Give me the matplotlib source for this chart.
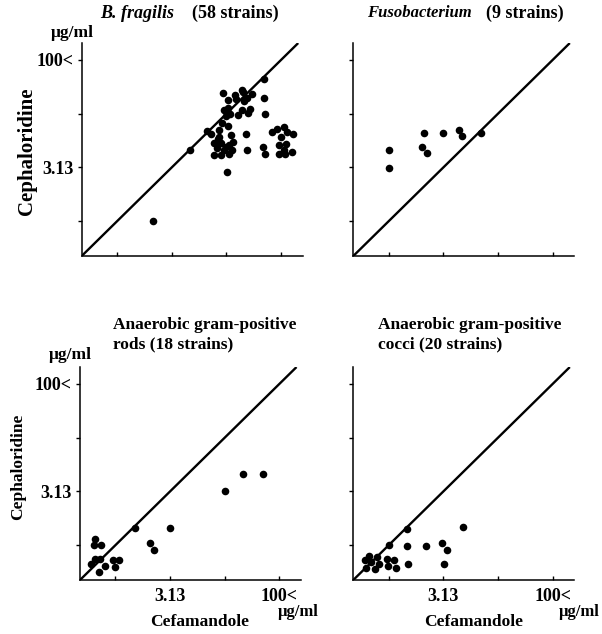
import matplotlib.pyplot as plt

# positions on a dilution-tick scale: tick 2 = 3.13 ug/ml, tick 4 = 100< ug/ml
bf_x = [1.66, 2.34, 3.68, 2.64, 2.71,
        2.94, 3.03, 3.15, 3.18, 3.28, 3.38, 3.47, 3.33, 3.68,
        2.95, 3.03, 3.07, 2.99, 3.28, 3.39, 3.44, 3.70,
        3.03, 2.87, 2.87, 3.09, 3.36, 3.67, 3.70, 3.38,
        2.78, 2.90, 3.05, 2.82, 2.95, 3.10, 2.78, 2.90, 3.05, 3.00,
        3.01,
        3.83, 3.93, 4.06, 4.11, 4.22, 4.00, 3.97, 4.10, 4.20, 3.97, 4.08, 4.06,
        2.85, 3.12, 3.22, 2.92, 3.30]
bf_y = [1.01, 2.32, 3.65, 2.68, 2.63,
        3.38, 3.26, 3.34, 3.28, 3.44, 3.30, 3.36, 3.24, 3.30,
        3.06, 3.11, 3.00, 2.95, 3.06, 3.01, 3.09, 3.00,
        2.78, 2.70, 2.57, 2.60, 2.63, 2.38, 2.25, 2.32,
        2.45, 2.45, 2.41, 2.36, 2.32, 2.32, 2.23, 2.23, 2.25, 2.38,
        1.92,
        2.66, 2.72, 2.75, 2.66, 2.63, 2.57, 2.41, 2.43, 2.29, 2.25, 2.25, 2.33,
        2.52, 2.48, 2.98, 2.82, 3.40]

fuso_x = [1.00, 1.00, 1.65, 1.60, 1.70, 2.00, 2.28, 2.34, 2.69]
fuso_y = [2.32, 1.98, 2.64, 2.38, 2.27, 2.64, 2.70, 2.59, 2.64]

rods_x = [0.63, 0.60, 0.73, 0.55, 0.62, 0.71, 0.80, 0.69, 0.95, 1.06, 1.00,
          1.35, 1.64, 1.70, 2.00, 3.01, 3.33, 3.71]
rods_y = [1.11, 1.00, 1.00, 0.65, 0.75, 0.75, 0.61, 0.50, 0.72, 0.72, 0.59,
          1.32, 1.03, 0.91, 1.31, 2.00, 2.32, 2.32]

cocci_x = [0.57, 0.64, 0.68, 0.78, 0.74, 0.82, 0.58, 0.96, 1.09, 0.98,
           1.14, 1.01, 1.34, 1.34, 1.35, 1.68, 1.98, 2.06, 2.01, 2.35]
cocci_y = [0.72, 0.80, 0.68, 0.77, 0.55, 0.65, 0.58, 0.74, 0.72, 0.61,
           0.58, 1.00, 0.99, 1.30, 0.65, 0.99, 1.03, 0.91, 0.65, 1.33]

tick_pos = [1, 2, 3, 4]
tick_labels = ['', '3.13', '', '100<']

W, H = 602, 634
fig = plt.figure(figsize=(W / 100, H / 100), dpi=100)
plt.rcParams['font.family'] = ['Liberation Serif', 'DejaVu Serif']

lo, xhi, yhi = 0.35, 4.40, 4.32
ux, uy = 54.6, 53.7  # px per tick unit


def make_ax(left_px, bottom_px):
    w = (xhi - lo) * ux
    h = (yhi - lo) * uy
    return fig.add_axes([left_px / W, 1 - bottom_px / H, w / W, h / H])


def panel(ax, xs, ys, left_labels, bottom_labels):
    ax.plot([lo, 4.3], [lo, 4.3], color='black', lw=1.7, zorder=1)
    ax.scatter(xs, ys, s=30, color='black', zorder=2, linewidths=0)
    ax.set_xlim(lo, xhi)
    ax.set_ylim(lo, yhi)
    for s in ['top', 'right']:
        ax.spines[s].set_visible(False)
    for s in ['left', 'bottom']:
        ax.spines[s].set_linewidth(1.1)
    ax.set_xticks(tick_pos)
    ax.set_yticks(tick_pos)
    ax.tick_params(axis='x', direction='in', length=3, width=1)
    ax.tick_params(axis='y', direction='out', length=3, width=1)
    ax.set_xticklabels(tick_labels if bottom_labels else [''] * 4,
                       fontsize=13, fontweight='bold')
    ax.set_yticklabels(tick_labels if left_labels else [''] * 4,
                       fontsize=13, fontweight='bold')
    ax.tick_params(axis='x', pad=6)
    ax.tick_params(axis='y', pad=3)


ax1 = make_ax(81.7, 256)
ax2 = make_ax(353.3, 256)
ax3 = make_ax(80, 580)
ax4 = make_ax(353.3, 580)

panel(ax1, bf_x, bf_y, True, False)
panel(ax2, fuso_x, fuso_y, False, False)
panel(ax3, rods_x, rods_y, True, True)
panel(ax4, cocci_x, cocci_y, False, True)


def ftext(x, y, s, **kw):
    fig.text(x / W, 1 - y / H, s, **kw)


# titles
ftext(100, 13, 'B. fragilis', fontsize=13, fontweight='bold', style='italic',
      va='center')
ftext(192, 13, '(58 strains)', fontsize=13, fontweight='bold', va='center')
ftext(367, 13, 'Fusobacterium', fontsize=12, fontweight='bold',
      style='italic', va='center')
ftext(486, 13, '(9 strains)', fontsize=13, fontweight='bold', va='center')
ftext(113, 325, 'Anaerobic gram-positive', fontsize=12.5, fontweight='bold', va='center')
ftext(113, 344, 'rods (18 strains)', fontsize=12.5, fontweight='bold', va='center')
ftext(378, 325, 'Anaerobic gram-positive', fontsize=12.5, fontweight='bold', va='center')
ftext(378, 344, 'cocci (20 strains)', fontsize=12.5, fontweight='bold', va='center')

# units
ftext(72, 33, 'μg/ml', fontsize=12.5, fontweight='bold', ha='center', va='center')
ftext(70, 355, 'μg/ml', fontsize=12.5, fontweight='bold', ha='center', va='center')
ftext(298, 612, 'μg/ml', fontsize=12, fontweight='bold', ha='center', va='center')
ftext(600, 612, 'μg/ml', fontsize=12, fontweight='bold', ha='right', va='center')

# axis names
ftext(27, 151, 'Cephaloridine', fontsize=15, fontweight='bold', rotation=90,
      ha='center', va='center')
ftext(18, 467, 'Cephaloridine', fontsize=12.5, fontweight='bold', rotation=90,
      ha='center', va='center')
ftext(200, 622, 'Cefamandole', fontsize=12.5, fontweight='bold', ha='center', va='center')
ftext(474, 622, 'Cefamandole', fontsize=12.5, fontweight='bold', ha='center', va='center')

fig.savefig('out.png', dpi=100)
